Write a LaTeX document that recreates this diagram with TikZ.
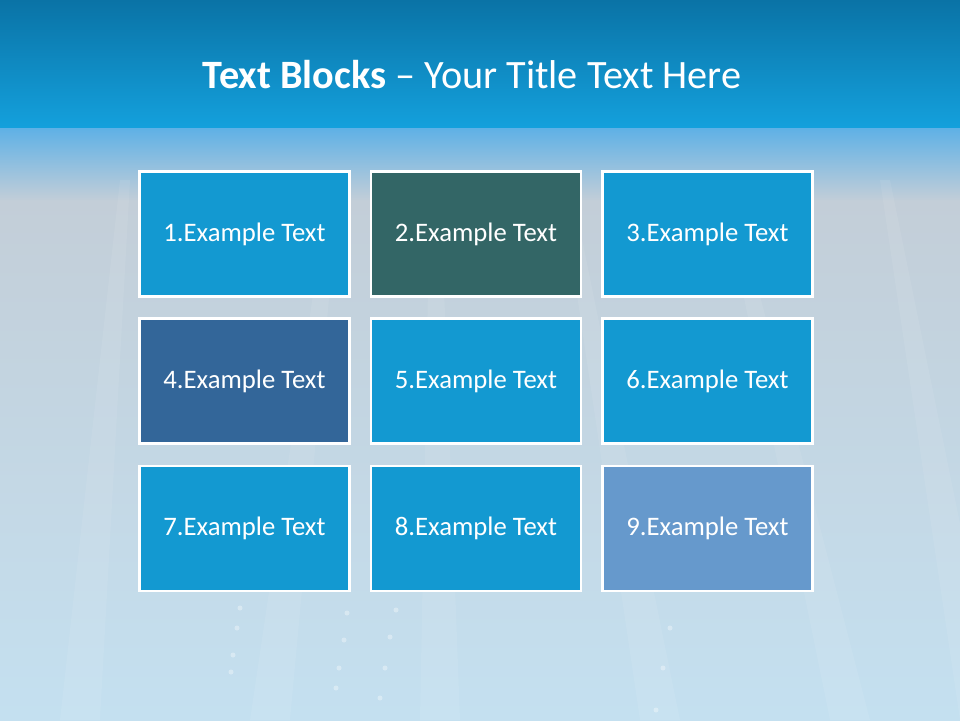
\documentclass[tikz,border=0pt]{standalone}
\usepackage{fontspec}
\setmainfont{Carlito}
\usetikzlibrary{positioning}
\definecolor{tbblue}{RGB}{19,153,209}
\definecolor{tbteal}{RGB}{51,102,102}
\definecolor{tbnavy}{RGB}{51,102,153}
\definecolor{tbsky}{RGB}{102,153,204}
\definecolor{hdtop}{RGB}{10,115,166}
\definecolor{hdbot}{RGB}{20,160,220}
\definecolor{bandtop}{RGB}{92,176,230}
\definecolor{bgtop}{RGB}{195,206,216}
\definecolor{bgbot}{RGB}{196,224,240}
\tikzset{
  block/.style={rectangle, draw=white, line width=1.6pt, minimum width=4.2cm,
    minimum height=2.5cm, text=white, font=\fontsize{15.2}{18}\selectfont},
}
\begin{document}
\begin{tikzpicture}[x=0.02cm, y=-0.02cm]
\useasboundingbox (0,0) rectangle (960,720);
% background
\begin{scope}
\clip (0,0) rectangle (960,720);
\shade[top color=bgtop, bottom color=bgbot] (0,200) rectangle (960,720);
\shade[top color=bandtop, bottom color=bgtop] (0,126) rectangle (960,201);
\foreach \xa/\xb in {120/60, 330/250, 430/420, 560/640, 720/830, 880/960} {
  \fill[white, opacity=0.07] (\xa,180) -- (\xb,720) -- (\xb+40,720) -- (\xa+10,180) -- cycle;
}
\foreach \px/\py in {240/608, 237/628, 233/655, 231/672, 347/613, 344/640, 339/668, 336/688, 396/610, 390/637, 385/668, 380/698, 670/628, 663/668, 656/710} {
  \fill[white, opacity=0.35] (\px,\py) circle (2.5);
}
\end{scope}
% header
\shade[top color=hdtop, bottom color=hdbot] (0,0) rectangle (960,127);
\node[text=white, font=\fontsize{22.9}{27}\selectfont] (title) at (472,75)
  {\textbf{Text Blocks} -- Your Title Text Here};
% text blocks
\node[block, fill=tbblue] (b1) at (244.5,234) {1.Example Text};
\node[block, fill=tbteal] (b2) at (476,234) {2.Example Text};
\node[block, fill=tbblue] (b3) at (707.5,234) {3.Example Text};
\node[block, fill=tbnavy] (b4) at (244.5,381) {4.Example Text};
\node[block, fill=tbblue] (b5) at (476,381) {5.Example Text};
\node[block, fill=tbblue] (b6) at (707.5,381) {6.Example Text};
\node[block, fill=tbblue] (b7) at (244.5,528.5) {7.Example Text};
\node[block, fill=tbblue] (b8) at (476,528.5) {8.Example Text};
\node[block, fill=tbsky] (b9) at (707.5,528.5) {9.Example Text};
\end{tikzpicture}
\end{document}
